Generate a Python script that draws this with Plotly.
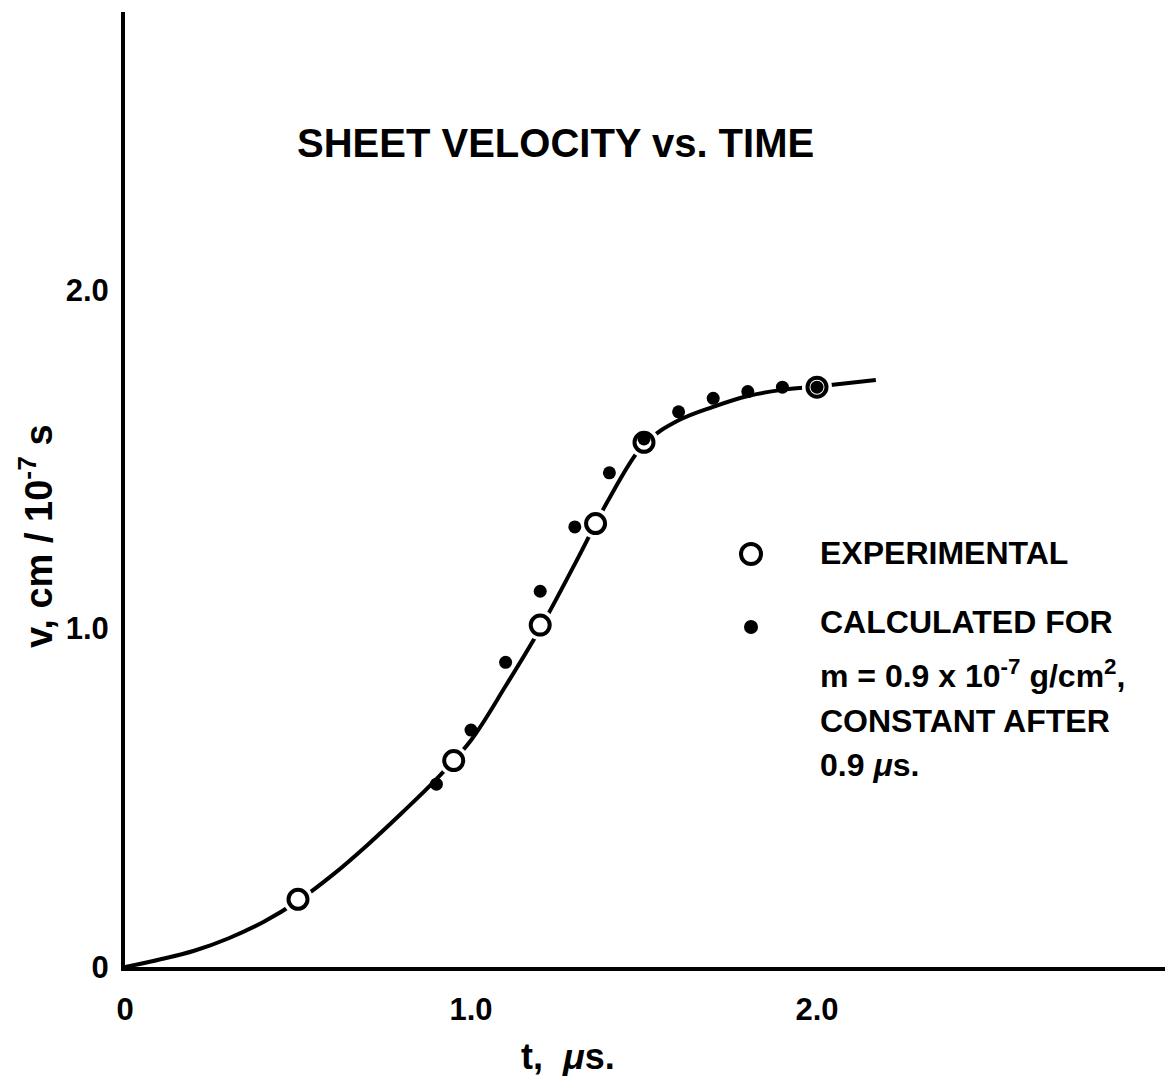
import plotly.graph_objects as go

# Experimental sheet velocity measurements (t in microseconds, v in cm/1e-7 s)
exp_t = [0.5, 0.95, 1.2, 1.36, 1.5, 2.0]
exp_v = [0.20, 0.61, 1.01, 1.31, 1.55, 1.713]

# Calculated values for m = 0.9e-7 g/cm^2, constant after 0.9 us
calc_t = [0.9, 1.0, 1.1, 1.2, 1.3, 1.4, 1.5, 1.6, 1.7, 1.8, 1.9, 2.0]
calc_v = [0.54, 0.70, 0.90, 1.11, 1.30, 1.46, 1.56, 1.64, 1.68, 1.70, 1.713, 1.713]

# Smooth curve through the experimental data
curve_t = [0, 0.1, 0.2, 0.3, 0.4, 0.5, 0.6, 0.7, 0.8, 0.9, 1.0, 1.1, 1.2, 1.3,
           1.4, 1.5, 1.6, 1.7, 1.8, 1.9, 2.0, 2.17]
curve_v = [0, 0.022, 0.048, 0.085, 0.133, 0.195, 0.272, 0.36, 0.455, 0.555, 0.67,
           0.83, 1.0, 1.19, 1.385, 1.545, 1.615, 1.655, 1.687, 1.705, 1.715, 1.734]

x_ticks = [0, 1.0, 2.0]
x_ticklabels = ["0", "1.0", "2.0"]
y_ticks = [0, 1.0, 2.0]
y_ticklabels = ["0", "1.0", "2.0"]

W, H = 1165, 1085
L, R, T, B = 125, 0, 12, 118
FONT = "Liberation Sans"
INK = "black"


def px(xp):
    return (xp - L) / (W - L - R)


def py(yp):
    return (H - B - yp) / (H - T - B)


fig = go.Figure()

fig.add_trace(go.Scatter(
    x=curve_t, y=curve_v, mode="lines",
    line=dict(color=INK, width=4, shape="spline", smoothing=1.0),
    hoverinfo="skip", showlegend=False,
))
# white halo so the curve breaks around each open circle
fig.add_trace(go.Scatter(
    x=exp_t, y=exp_v, mode="markers",
    marker=dict(symbol="circle", size=30, color="white", line=dict(width=0)),
    hoverinfo="skip", showlegend=False,
))
fig.add_trace(go.Scatter(
    x=exp_t, y=exp_v, mode="markers", name="EXPERIMENTAL",
    marker=dict(symbol="circle", size=19, color="white",
                line=dict(color=INK, width=4)),
    showlegend=False,
))
fig.add_trace(go.Scatter(
    x=calc_t, y=calc_v, mode="markers", name="CALCULATED",
    marker=dict(symbol="circle", size=13, color=INK, line=dict(width=0)),
    showlegend=False,
))

ann = []
ann.append(dict(text="<b>SHEET VELOCITY vs. TIME</b>", x=px(555), y=py(143),
                xref="paper", yref="paper", showarrow=False,
                xanchor="center", yanchor="middle",
                font=dict(family=FONT, size=40, color=INK)))
ann.append(dict(text="<b>t,  <i>μ</i>s.</b>", x=px(568), y=py(1056),
                xref="paper", yref="paper", showarrow=False,
                xanchor="center", yanchor="middle",
                font=dict(family=FONT, size=36, color=INK)))
ann.append(dict(text="<b>v, cm / 10<sup>-7</sup> s</b>", x=px(36), y=py(536),
                xref="paper", yref="paper", showarrow=False, textangle=-90,
                xanchor="center", yanchor="middle",
                font=dict(family=FONT, size=38, color=INK)))

legend_lines = [
    ("EXPERIMENTAL", 553),
    ("CALCULATED FOR", 622),
    ("m = 0.9 x 10<sup>-7</sup> g/cm<sup>2</sup>,", 674),
    ("CONSTANT AFTER", 721),
    ("0.9 <i>μ</i>s.", 765),
]
for txt, yp in legend_lines:
    ann.append(dict(text="<b>" + txt + "</b>", x=px(818), y=py(yp),
                    xref="paper", yref="paper", showarrow=False,
                    xanchor="left", yanchor="middle",
                    font=dict(family=FONT, size=32, color=INK)))

shapes = [
    # legend key: open circle
    dict(type="circle", xref="paper", yref="paper",
         xsizemode="pixel", ysizemode="pixel",
         xanchor=px(751), yanchor=py(554),
         x0=-10, x1=10, y0=-10, y1=10,
         line=dict(color=INK, width=4), fillcolor="white"),
    # legend key: filled dot
    dict(type="circle", xref="paper", yref="paper",
         xsizemode="pixel", ysizemode="pixel",
         xanchor=px(751), yanchor=py(627),
         x0=-7, x1=7, y0=-7, y1=7,
         line=dict(width=0), fillcolor=INK),
]

fig.update_layout(
    width=W, height=H,
    margin=dict(l=L, r=R, t=T, b=B, pad=0),
    paper_bgcolor="white", plot_bgcolor="white",
    showlegend=False,
    annotations=ann, shapes=shapes,
    xaxis=dict(range=[0, (W - L - R) / 346.0], showgrid=False, zeroline=False,
               showline=True, linecolor=INK, linewidth=4,
               tickvals=x_ticks, ticktext=["<b>%s</b>" % s for s in x_ticklabels],
               ticks="", ticklabelstandoff=12,
               tickfont=dict(family=FONT, size=31, color=INK)),
    yaxis=dict(range=[0, (H - T - B) / 338.5], showgrid=False, zeroline=False,
               showline=True, linecolor=INK, linewidth=4,
               tickvals=y_ticks, ticktext=["<b>%s</b>" % s for s in y_ticklabels],
               ticks="", ticklabelstandoff=6,
               tickfont=dict(family=FONT, size=31, color=INK)),
)

fig.write_html("out.html", config={"displayModeBar": False})
